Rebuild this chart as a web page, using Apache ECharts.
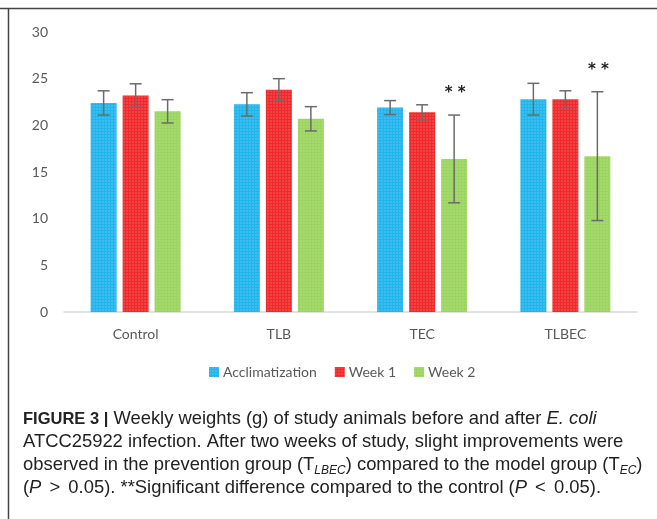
<!DOCTYPE html>
<html>
<head>
<meta charset="utf-8">
<script src="https://cdn.jsdelivr.net/npm/echarts@6/dist/echarts.min.js"></script>
<style>
html,body{margin:0;padding:0;background:#fff;}
#chart{width:657px;height:519px;}
</style>
</head>
<body>
<div id="chart"></div>
<script>
var categories = ['Control', 'TLB', 'TEC', 'TLBEC'];
var seriesNames = ['Acclimatization', 'Week 1', 'Week 2'];
var acclim = [22.4, 22.25, 21.9, 22.8];
var acclimErr = [1.3, 1.25, 0.75, 1.7];
var week1 = [23.2, 23.8, 21.4, 22.8];
var week1Err = [1.25, 1.2, 0.8, 0.9];
var week2 = [21.5, 20.7, 16.4, 16.7];
var week2Err = [1.25, 1.3, 4.7, 6.9];
var week2Sig = ['', '', '**', '**'];
var yTicks = [0, 5, 10, 15, 20, 25, 30];

var colors = ['#22b5ec', '#f02a2c', '#9bd45e'];
var values = [acclim, week1, week2];
var errs = [acclimErr, week1Err, week2Err];
var sigs = [null, null, week2Sig];
var BAR_W = 26, STEP = 32;
var labelFont = 'Lato, "Open Sans", sans-serif';

var chart = echarts.init(document.getElementById('chart'));

var series = [];
seriesNames.forEach(function (name, i) {
  series.push({
    name: name, type: 'bar', data: values[i], barWidth: BAR_W, barGap: '23%',
    itemStyle: { color: colors[i], decal: { symbol: 'rect', symbolSize: 0.6, color: 'rgba(255,255,255,0.4)', dashArrayX: [[2, 1]], dashArrayY: [2, 1] } },
    emphasis: { disabled: true }
  });
});
seriesNames.forEach(function (name, i) {
  var d = values[i].map(function (v, k) {
    return [k, v - errs[i][k], v + errs[i][k], sigs[i] ? sigs[i][k] : ''];
  });
  series.push({
    type: 'custom', name: name + ' err', data: d, z: 10, silent: true,
    renderItem: function (params, api) {
      var off = (i - 1) * STEP;
      var lo = api.coord([api.value(0), api.value(1)]);
      var hi = api.coord([api.value(0), api.value(2)]);
      var x = lo[0] + off;
      var cap = 6;
      var st = { stroke: '#6b6b6b', lineWidth: 1.5 };
      var children = [
        { type: 'line', shape: { x1: x, y1: lo[1], x2: x, y2: hi[1] }, style: st },
        { type: 'line', shape: { x1: x - cap, y1: lo[1], x2: x + cap, y2: lo[1] }, style: st },
        { type: 'line', shape: { x1: x - cap, y1: hi[1], x2: x + cap, y2: hi[1] }, style: st }
      ];
      var s = d[params.dataIndex][3];
      if (s) {
        children.push({ type: 'text', style: { text: s.split('').join(' '), x: x + 1, y: hi[1] - 22, align: 'center', verticalAlign: 'middle', font: 'bold 15px "DejaVu Sans"', fill: '#222' } });
      }
      return { type: 'group', children: children };
    }
  });
});

var capFont = '"Liberation Sans", Arial, sans-serif';
var capStyle = { fontSize: 18.4, fontFamily: capFont, fill: '#222', lineHeight: 23 };
function tok(o) { return Object.assign({}, capStyle, o); }
var rich = {
  n: tok({}),
  b: tok({ fontWeight: 'bold', fontSize: 16.5 }),
  i: tok({ fontStyle: 'italic' }),
  op: tok({ padding: [0, 3, 0, 3] }),
  s: tok({ fontSize: 12, fontStyle: 'italic', verticalAlign: 'bottom', padding: [8, 0, 0, 0] })
};
var capLines = [
  '{b|FIGURE 3 |}{n| Weekly weights (g) of study animals before and after }{i|E. coli}',
  '{n|ATCC25922 infection. After two weeks of study, slight improvements were}',
  '{n|observed in the prevention group (T}{s|LBEC}{n|) compared to the model group (T}{s|EC}{n|)}',
  '{n|(}{i|P}{op| > }{n|0.05). **Significant difference compared to the control (}{i|P}{op| < }{n|0.05).}'
];
var capY = [421.5, 444.5, 467.5, 490.5];
var graphics = [
  { type: 'line', shape: { x1: 0, y1: 8.5, x2: 657, y2: 8.5 }, style: { stroke: '#444', lineWidth: 1.5 } },
  { type: 'line', shape: { x1: 8.5, y1: 8, x2: 8.5, y2: 519 }, style: { stroke: '#444', lineWidth: 1.5 } }
];
capLines.forEach(function (t, k) {
  graphics.push({ type: 'text', left: 23, top: capY[k] - 11.5, style: { text: t, rich: rich, font: '18px ' + capFont } });
});

chart.setOption({
  backgroundColor: '#fff',
  animation: false,
  grid: { left: 64, right: 20, top: 32, bottom: 207 },
  legend: {
    data: seriesNames, top: 360, left: 204, itemWidth: 10, itemHeight: 10, itemGap: 18,
    textStyle: { fontFamily: labelFont, fontSize: 14, color: '#595959', padding: [0, 0, 0, -1] },
    icon: 'rect'
  },
  xAxis: {
    type: 'category', data: categories,
    axisLine: { lineStyle: { color: '#d9d9d9', width: 1.5 } },
    axisTick: { show: false },
    axisLabel: { color: '#595959', fontFamily: labelFont, fontSize: 14, margin: 15 }
  },
  yAxis: {
    type: 'value', min: yTicks[0], max: yTicks[yTicks.length - 1], interval: yTicks[1] - yTicks[0],
    axisLine: { show: false }, axisTick: { show: false }, splitLine: { show: false },
    axisLabel: { color: '#595959', fontFamily: labelFont, fontSize: 14, margin: 16 }
  },
  series: series,
  graphic: graphics
});
</script>
</body>
</html>
